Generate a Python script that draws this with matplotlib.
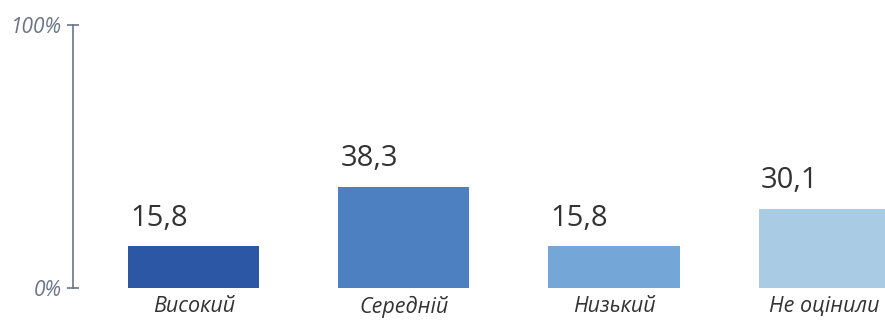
import matplotlib
matplotlib.use("Agg")
import matplotlib.pyplot as plt

plt.rcParams.update({
    "font.family": ["Open Sans", "DejaVu Sans"],
})

categories = ["Високий", "Середній", "Низький", "Не оцінили"]
values = [15.8, 38.3, 15.8, 30.1]
labels = ["15,8", "38,3", "15,8", "30,1"]
colors = ["#2b57a5", "#4c80c1", "#74a6d8", "#a9cce4"]

AXIS = "#6b7489"
TEXT = "#333333"

W, H = 885, 320
fig = plt.figure(figsize=(W / 100, H / 100), dpi=100)
ax = fig.add_axes([73 / W, 32 / H, (W - 73) / W, 263 / H])

x = list(range(len(values)))
bars = ax.bar(x, values, width=0.624, color=colors, zorder=2)

for b, lab in zip(bars, labels):
    ax.annotate(lab, (b.get_x(), b.get_height()), xytext=(1.5, 10),
                textcoords="offset points", ha="left", va="bottom",
                fontsize=21, color=TEXT)

ax.set_xlim(-0.575, 3.29)
ax.set_ylim(0, 100)

for s in ["top", "right", "bottom"]:
    ax.spines[s].set_visible(False)
ax.spines["left"].set_color(AXIS)
ax.spines["left"].set_linewidth(1.2)

ax.set_yticks([0, 100], ["0%", "100%"])
ax.tick_params(axis="y", direction="inout", length=8, width=1.2, color=AXIS,
               labelcolor=AXIS, labelsize=15, pad=4)
for t in ax.get_yticklabels():
    t.set_fontstyle("italic")

ax.set_xticks(x, categories)
ax.tick_params(axis="x", length=0, labelsize=15.5, labelcolor=TEXT, pad=6)
for t in ax.get_xticklabels():
    t.set_fontstyle("italic")

fig.savefig("out.png", dpi=100)
